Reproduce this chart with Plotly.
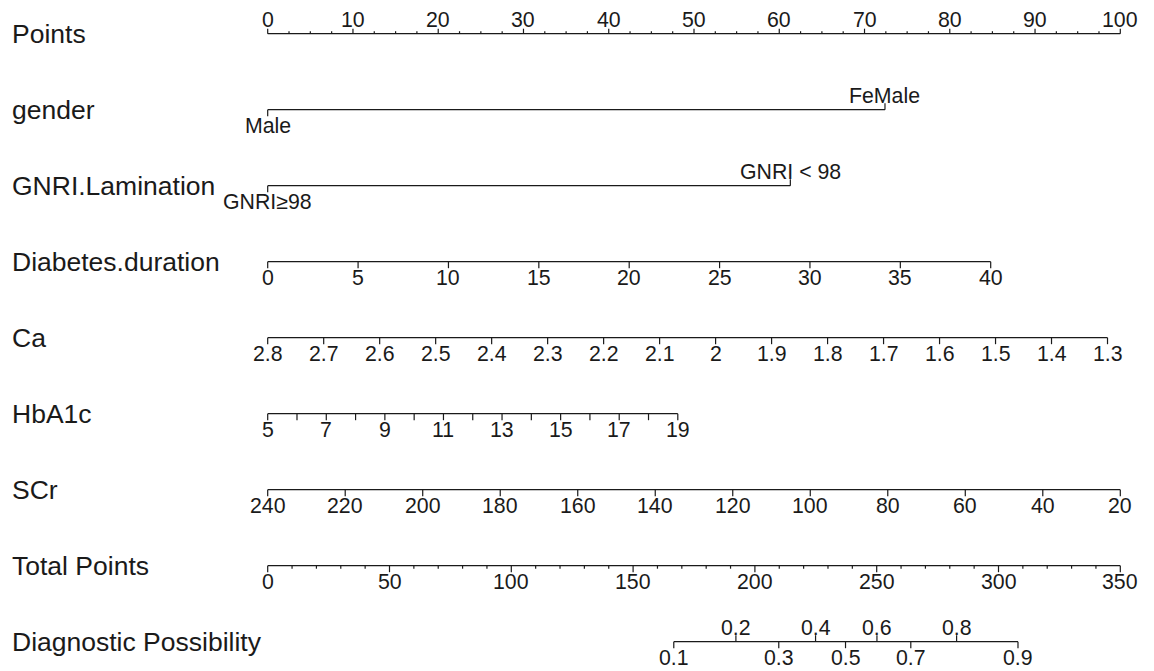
import plotly.graph_objects as go

# ---------------- data ----------------
row_names = ["Points", "gender", "GNRI.Lamination", "Diabetes.duration", "Ca",
             "HbA1c", "SCr", "Total Points", "Diagnostic Possibility"]

points_major = [0, 10, 20, 30, 40, 50, 60, 70, 80, 90, 100]
points_minor = [2.5, 5, 7.5, 12.5, 15, 17.5, 22.5, 25, 27.5, 32.5, 35, 37.5,
                42.5, 45, 47.5, 52.5, 55, 57.5, 62.5, 65, 67.5, 72.5, 75, 77.5,
                82.5, 85, 87.5, 92.5, 95, 97.5]

gender_levels = ["Male", "FeMale"]
gender_points = [0, 72.4]

gnri_levels = ["GNRI≥98", "GNRI < 98"]
gnri_points = [0, 61.3]

diab_values = [0, 5, 10, 15, 20, 25, 30, 35, 40]
diab_labels = ["0", "5", "10", "15", "20", "25", "30", "35", "40"]
diab_span = [0, 40]
diab_points_span = [0, 84.8]

ca_values = [2.8, 2.7, 2.6, 2.5, 2.4, 2.3, 2.2, 2.1, 2.0, 1.9, 1.8, 1.7, 1.6, 1.5, 1.4, 1.3]
ca_labels = ["2.8", "2.7", "2.6", "2.5", "2.4", "2.3", "2.2", "2.1", "2", "1.9",
             "1.8", "1.7", "1.6", "1.5", "1.4", "1.3"]
ca_span = [2.8, 1.3]
ca_points_span = [0, 98.5]

hba1c_values = [5, 6, 7, 8, 9, 10, 11, 12, 13, 14, 15, 16, 17, 18, 19]
hba1c_labels = ["5", "", "7", "", "9", "", "11", "", "13", "", "15", "", "17", "", "19"]
hba1c_span = [5, 19]
hba1c_points_span = [0, 48.1]

scr_values = [240, 220, 200, 180, 160, 140, 120, 100, 80, 60, 40, 20]
scr_labels = ["240", "220", "200", "180", "160", "140", "120", "100", "80", "60", "40", "20"]
scr_span = [240, 20]
scr_points_span = [0, 100]

total_major = [0, 50, 100, 150, 200, 250, 300, 350]
total_minor = [10, 20, 30, 40, 60, 70, 80, 90, 110, 120, 130, 140, 160, 170, 180, 190,
               210, 220, 230, 240, 260, 270, 280, 290, 310, 320, 330, 340]
total_span = [0, 350]

prob_labels = ["0.1", "0.2", "0.3", "0.4", "0.5", "0.6", "0.7", "0.8", "0.9"]
prob_total_points = [166.7, 192.2, 209.8, 224.9, 237.2, 250.1, 264.0, 282.8, 308.0]
prob_label_above = [False, True, False, True, False, True, False, True, False]

# ---------------- layout geometry ----------------
W, H = 1154, 671
PX_PER_POINT = 8.526
X0_PX = 267.7
x_lo = -X0_PX / PX_PER_POINT
x_hi = x_lo + W / PX_PER_POINT

row_y = [33.7 + 76.0 * i for i in range(9)]

LINE_COLOR = "#1a1a1a"
TEXT_COLOR = "#1a1a1a"
FONT = "Liberation Sans, Arial, sans-serif"
TICK_FONT = 21.3
ROW_FONT = 26.5
MAJOR = 6.5
MINOR = 3.0
UP_OFF = 13.5
DOWN_OFF = 16.0


def lin(values, span, pspan):
    a0, a1 = span
    p0, p1 = pspan
    return [p0 + (v - a0) * (p1 - p0) / (a1 - a0) for v in values]


seg_x, seg_y = [], []
annotations = []


def hline(x0, x1, y):
    seg_x.extend([x0, x1, None])
    seg_y.extend([y, y, None])


def tick(x, y, length, up):
    seg_x.extend([x, x, None])
    seg_y.extend([y, y - length if up else y + length, None])


def label(x, y, text, up):
    if text == "":
        return
    annotations.append(dict(
        x=x, y=(y - UP_OFF) if up else (y + DOWN_OFF), xref="x", yref="y",
        text=text, showarrow=False, xanchor="center", yanchor="middle",
        font=dict(family=FONT, size=TICK_FONT, color=TEXT_COLOR)))


# Points
y = row_y[0]
hline(points_major[0], points_major[-1], y)
for v in points_major:
    tick(v, y, 5.0, True)
    label(v, y, str(v), True)
for v in points_minor:
    tick(v, y, 2.5, True)

# gender
y = row_y[1]
hline(min(gender_points), max(gender_points), y)
for i, (lv, p) in enumerate(zip(gender_levels, gender_points)):
    up = (i % 2 == 1)
    tick(p, y, MAJOR, up)
    label(p, y, lv, up)

# GNRI
y = row_y[2]
hline(min(gnri_points), max(gnri_points), y)
for i, (lv, p) in enumerate(zip(gnri_levels, gnri_points)):
    up = (i % 2 == 1)
    tick(p, y, MAJOR, up)
    label(p, y, lv, up)


def cont_axis(row, values, labels_, span, pspan):
    y = row_y[row]
    ps = lin(values, span, pspan)
    hline(min(ps), max(ps), y)
    for p, t in zip(ps, labels_):
        tick(p, y, MAJOR, False)
        label(p, y, t, False)


cont_axis(3, diab_values, diab_labels, diab_span, diab_points_span)
cont_axis(4, ca_values, ca_labels, ca_span, ca_points_span)
cont_axis(5, hba1c_values, hba1c_labels, hba1c_span, hba1c_points_span)
cont_axis(6, scr_values, scr_labels, scr_span, scr_points_span)

# Total points
y = row_y[7]
tp_major = lin(total_major, total_span, [0, 100])
tp_minor = lin(total_minor, total_span, [0, 100])
hline(tp_major[0], tp_major[-1], y)
for p, v in zip(tp_major, total_major):
    tick(p, y, MAJOR, False)
    label(p, y, str(v), False)
for p in tp_minor:
    tick(p, y, MINOR, False)

# Diagnostic possibility
y = row_y[8]
pp = lin(prob_total_points, total_span, [0, 100])
hline(min(pp), max(pp), y)
for p, t, up in zip(pp, prob_labels, prob_label_above):
    tick(p, y, MAJOR, up)
    label(p, y, t, up)

# row names
for name, yy in zip(row_names, row_y):
    annotations.append(dict(
        x=10 / W, y=yy, xref="paper", yref="y", text=name, showarrow=False,
        xanchor="left", yanchor="middle",
        font=dict(family=FONT, size=ROW_FONT, color=TEXT_COLOR)))

fig = go.Figure()
fig.add_trace(go.Scatter(x=seg_x, y=seg_y, mode="lines",
                         line=dict(color=LINE_COLOR, width=1.2),
                         hoverinfo="skip", showlegend=False))

fig.update_layout(
    width=W, height=H,
    margin=dict(l=0, r=0, t=0, b=0),
    paper_bgcolor="white", plot_bgcolor="white",
    xaxis=dict(range=[x_lo, x_hi], visible=False, fixedrange=True),
    yaxis=dict(range=[H, 0], visible=False, fixedrange=True),
    annotations=annotations,
    showlegend=False,
)

fig.write_html("out.html", config={"displayModeBar": False})

# remove default page margin so the figure sits at the window's top-left
with open("out.html", "r", encoding="utf-8") as f:
    html = f.read()
html = html.replace("<body>", '<body style="margin:0;padding:0;overflow:hidden">', 1)
with open("out.html", "w", encoding="utf-8") as f:
    f.write(html)
